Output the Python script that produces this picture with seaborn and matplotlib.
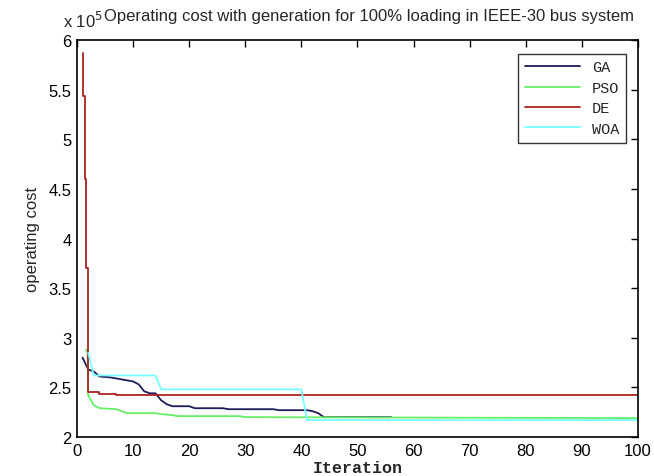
import matplotlib
matplotlib.use("Agg")
import matplotlib.pyplot as plt
import seaborn as sns
from matplotlib.ticker import FuncFormatter

# Data (operating cost in units of 1e5)
ga_x = [1, 2, 3, 4, 6, 8, 10, 11, 12, 13, 14, 15, 16, 17, 20, 21, 26, 27, 35, 36, 41, 42, 43, 44, 56]
ga_y = [2.80, 2.68, 2.66, 2.61, 2.60, 2.58, 2.56, 2.53, 2.46, 2.44, 2.44, 2.37, 2.33, 2.31, 2.31,
        2.29, 2.29, 2.28, 2.28, 2.27, 2.27, 2.26, 2.24, 2.20, 2.20]
pso_x = [1.6, 1.9, 2, 3, 4, 7, 8, 9, 14, 15, 17, 18, 29, 30, 100]
pso_y = [2.88, 2.85, 2.42, 2.32, 2.29, 2.28, 2.26, 2.24, 2.24, 2.23, 2.22, 2.21, 2.21, 2.20, 2.19]
de_x = [1, 1.15, 1.15, 1.4, 1.4, 1.6, 1.6, 2, 2, 4, 4, 7, 7, 100]
de_y = [5.87, 5.87, 5.44, 5.44, 4.60, 4.60, 3.70, 3.70, 2.45, 2.45, 2.43, 2.43, 2.42, 2.42]
woa_x = [2, 3, 14, 15, 40, 41, 100]
woa_y = [2.85, 2.62, 2.62, 2.48, 2.48, 2.17, 2.17]

x_ticks = [0, 10, 20, 30, 40, 50, 60, 70, 80, 90, 100]
y_ticks = [2, 2.5, 3, 3.5, 4, 4.5, 5, 5.5, 6]

series = [("GA", ga_x, ga_y, "#1c1c5a"),
          ("PSO", pso_x, pso_y, "#66ee66"),
          ("DE", de_x, de_y, "#aa2222"),
          ("WOA", woa_x, woa_y, "#77ffff")]

sns.set_style("white")
plt.rcParams['font.family'] = ['Liberation Sans', 'DejaVu Sans']

fig = plt.figure(figsize=(6.54, 4.77), dpi=100)
ax = fig.add_axes([0.1177, 0.0818, 0.8578, 0.8322])

for name, xs, ys, col in series:
    sns.lineplot(x=xs, y=ys, ax=ax, color=col, label=name, sort=False,
                 estimator=None, linewidth=1.3)

ax.set_xlim(0, 100)
ax.set_ylim(2, 6)
ax.set_xticks(x_ticks)
ax.set_yticks(y_ticks)
ax.yaxis.set_major_formatter(FuncFormatter(lambda v, p: f"{v:g}"))
ax.tick_params(direction="in", top=True, right=True, length=5, width=1,
               labelsize=12, colors="black", pad=4)
for s in ax.spines.values():
    s.set_color("black")
    s.set_linewidth(1.2)

ax.set_xlabel("Iteration", family="Liberation Mono", fontweight="bold", fontsize=12, labelpad=2)
ax.set_ylabel("operating cost", fontsize=12, labelpad=6)

fig.text(0.096, 0.956, "x 10$^5$", fontsize=12, ha="left", va="center")
fig.text(0.159, 0.965, "Operating cost with generation for 100% loading in IEEE-30 bus system",
         fontsize=12.0, ha="left", va="center")

leg = ax.legend(loc="upper right", bbox_to_anchor=(0.993, 0.985), frameon=True,
                fancybox=False, edgecolor="black", prop={"family": "Liberation Mono", "size": 11},
                handlelength=3.6, borderpad=0.45, labelspacing=0.42)
leg.get_frame().set_linewidth(1.0)

fig.savefig("out.png", dpi=100)
